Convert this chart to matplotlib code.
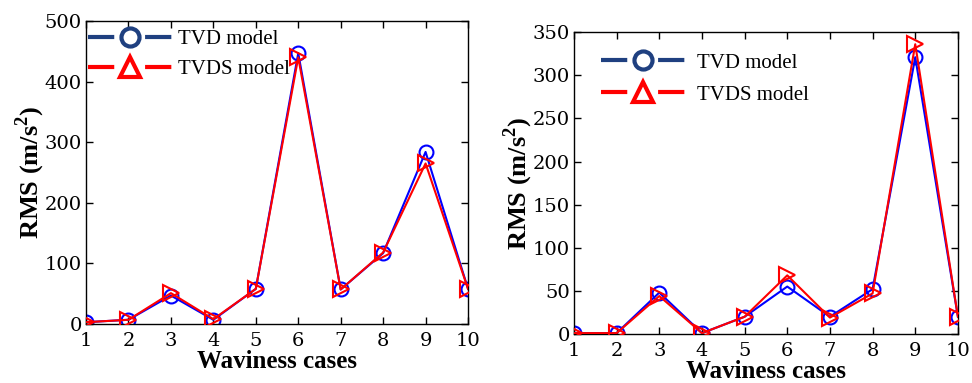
import matplotlib
matplotlib.use("Agg")
import matplotlib.pyplot as plt
from matplotlib.lines import Line2D

plt.rcParams['font.family'] = ['Liberation Serif', 'DejaVu Serif']
plt.rcParams['mathtext.fontset'] = 'custom'
plt.rcParams['mathtext.rm'] = 'Liberation Serif'
plt.rcParams['mathtext.bf'] = 'Liberation Serif:bold'

cases = [1, 2, 3, 4, 5, 6, 7, 8, 9, 10]
tvd_left = [3, 7, 47, 7, 58, 447, 57, 117, 284, 58]
tvds_left = [3, 7, 51, 8, 58, 440, 57, 118, 265, 58]
tvd_right = [1, 1, 48, 1, 20, 55, 20, 52, 321, 20]
tvds_right = [1, 1, 44, 1, 20, 68, 19, 47, 336, 20]

left_yticks = [0, 100, 200, 300, 400, 500]
right_yticks = [0, 50, 100, 150, 200, 250, 300, 350]
legend_labels = ['TVD model', 'TVDS model']

fig = plt.figure(figsize=(9.72, 3.83), dpi=100)
axL = fig.add_axes([0.0885, 0.154, 0.393, 0.791])
axR = fig.add_axes([0.5905, 0.128, 0.395, 0.788])


def style(ax, tvd, tvds, ylim, yticks):
    ax.plot(cases, tvd, color='blue', lw=1.5, marker='o', ms=10,
            mfc='none', mec='blue', mew=1.5, zorder=2)
    ax.plot(cases, tvds, color='red', lw=1.5, marker='>', ms=12,
            mfc='none', mec='red', mew=1.5, zorder=3)
    ax.set_xlim(1, 10)
    ax.set_ylim(*ylim)
    ax.set_xticks(cases)
    ax.set_yticks(yticks)
    ax.tick_params(direction='in', top=True, right=True, length=5, width=1.0)
    ax.tick_params(axis='x', pad=6)
    ax.tick_params(axis='y', pad=3)
    for lab in ax.get_xticklabels() + ax.get_yticklabels():
        lab.set_fontfamily('DejaVu Serif')
        lab.set_fontsize(14)
    ax.set_xlabel('Waviness cases', fontsize=18, fontweight='bold', labelpad=0)
    ax.set_ylabel(r'RMS (m/s$^{\mathbf{2}}$)', fontsize=19, fontweight='bold', labelpad=-2)
    for s in ax.spines.values():
        s.set_linewidth(1.0)


style(axL, tvd_left, tvds_left, (0, 500), left_yticks)
style(axR, tvd_right, tvds_right, (0, 350), right_yticks)

handles = [
    Line2D([0], [0], color='#1f4080', lw=3, ls=(0, (6.3, 7.4)), dash_capstyle='butt',
           marker='o', ms=13, mfc='white', mec='#1f4080', mew=3),
    Line2D([0], [0], color='red', lw=3, ls=(0, (6.3, 7.4)), dash_capstyle='butt',
           marker='^', ms=14, mfc='white', mec='red', mew=3),
]
axL.legend(handles, legend_labels, loc='upper left', bbox_to_anchor=(-0.005, 0.985),
           frameon=False, fontsize=15, handlelength=4.0, handletextpad=0.3,
           labelspacing=0.5, borderaxespad=0, borderpad=0.2)
axR.legend(handles, legend_labels, loc='upper left', bbox_to_anchor=(0.06, 0.945),
           frameon=False, fontsize=15, handlelength=4.0, handletextpad=0.6,
           labelspacing=0.6, borderaxespad=0, borderpad=0.2)

fig.savefig('out.png', dpi=100)
